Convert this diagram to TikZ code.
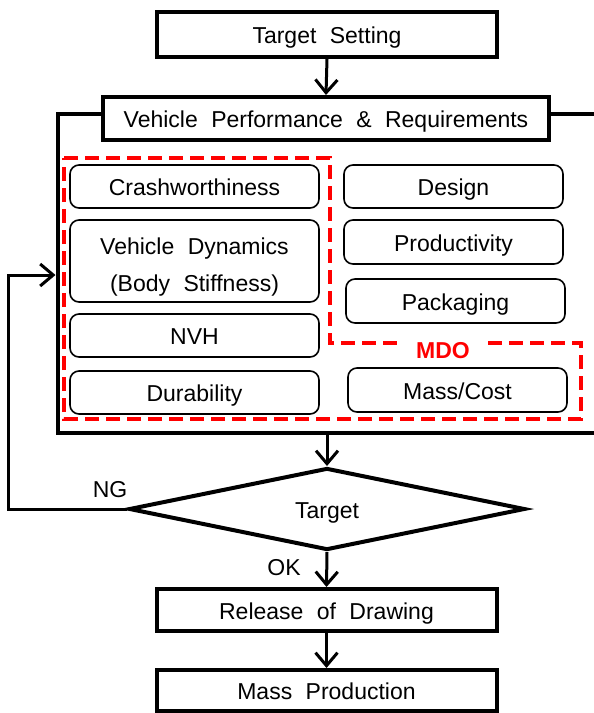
\documentclass[tikz,border=0pt]{standalone}
\usepackage{fontspec}
\setmainfont{Liberation Sans}[WordSpace=2.1]
\usetikzlibrary{arrows.meta,shapes.geometric}
\begin{document}
\begin{tikzpicture}[x=1pt,y=-1pt,
  every node/.style={font=\fontsize{23}{37}\selectfont,text height=18pt,text depth=0pt},
  mainbox/.style={draw,line width=4pt,fill=white,inner sep=0pt},
  subbox/.style={draw,line width=1.6pt,rounded corners=9pt,fill=white,inner sep=0pt},
  flow/.style={line width=3pt,-{Straight Barb[length=13pt,width=22pt,line width=3pt]}},
  mdoline/.style={red,line width=3.5pt,dash pattern=on 14pt off 7pt}
]
\useasboundingbox (0,0) rectangle (594,713);
\clip (0,0) rectangle (594,713);

% outer frame
\draw[line width=4pt] (57.5,114) rectangle (620,433);

% red MDO region
\draw[mdoline] (64,158) -- (330,158) -- (330,343) -- (581,343) -- (581,419) -- (64,419) -- cycle;
\node[fill=white,text=red,font=\fontsize{23}{28}\bfseries\selectfont,inner xsep=16pt,inner ysep=3pt] (mdo) at (443,349) {MDO};

% main boxes
\node[mainbox,minimum width=340pt,minimum height=45pt] (target) at (327,34.5) {Target Setting};
\node[mainbox,minimum width=446pt,minimum height=43pt] (vpr) at (326,118.5) {Vehicle Performance \& Requirements};

% sub boxes
\node[subbox,minimum width=249pt,minimum height=43pt] (crash) at (194.5,186.5) {Crashworthiness};
\node[subbox,minimum width=249pt,minimum height=82pt,align=center,text height=60pt,text depth=0pt] (vdyn) at (194.5,261) {Vehicle Dynamics\\(Body Stiffness)};
\node[subbox,minimum width=249pt,minimum height=43pt] (nvh) at (194.5,335.5) {NVH};
\node[subbox,minimum width=249pt,minimum height=43pt] (dura) at (194.5,392.5) {Durability};
\node[subbox,minimum width=219pt,minimum height=43pt] (design) at (453.5,186.5) {Design};
\node[subbox,minimum width=219pt,minimum height=44pt] (prod) at (453.5,242) {Productivity};
\node[subbox,minimum width=219pt,minimum height=44pt] (pack) at (455.5,301) {Packaging};
\node[subbox,minimum width=219pt,minimum height=44pt] (mass) at (457.5,390) {Mass/Cost};

% decision
\node[draw,diamond,line width=4pt,inner sep=0pt,minimum width=396pt,minimum height=82pt,shape aspect=4.83] (dec) at (327,509) {Target};

% lower boxes
\node[mainbox,minimum width=340pt,minimum height=42pt] (release) at (326.5,610) {Release of Drawing};
\node[mainbox,minimum width=340pt,minimum height=41pt] (massprod) at (326.5,690.5) {Mass Production};

% connectors
\coordinate (obot) at (327,433);
\coordinate (ngA) at (8,509);
\coordinate (ngB) at (8,275);
\coordinate (ngT) at (55.5,275);
\draw[flow] (target.south) -- (vpr.north);
\draw[flow] (obot) -- (dec.north);
\draw[flow] (dec.south) -- (release.north);
\draw[flow] (release.south) -- (massprod.north);
\draw[flow] (dec.west) -- (ngA) -- (ngB) -- (ngT);

% labels
\node (ng) at (110,488) {NG};
\node (ok) at (284,566) {OK};
\end{tikzpicture}
\end{document}
